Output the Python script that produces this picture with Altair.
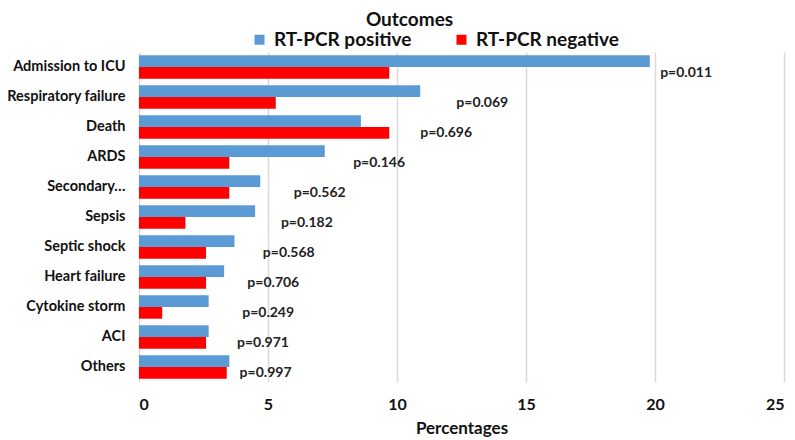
import altair as alt
import pandas as pd

categories = ["Admission to ICU", "Respiratory failure", "Death", "ARDS", "Secondary…",
              "Sepsis", "Septic shock", "Heart failure", "Cytokine storm", "ACI", "Others"]
positive = [19.8, 10.9, 8.6, 7.2, 4.7, 4.5, 3.7, 3.3, 2.7, 2.7, 3.5]
negative = [9.7, 5.3, 9.7, 3.5, 3.5, 1.8, 2.6, 2.6, 0.9, 2.6, 3.4]
p_values = ["p=0.011", "p=0.069", "p=0.696", "p=0.146", "p=0.562", "p=0.182",
            "p=0.568", "p=0.706", "p=0.249", "p=0.971", "p=0.997"]
p_label_x = [20.2, 12.3, 10.9, 8.3, 6.0, 5.5, 4.8, 4.2, 4.0, 3.8, 3.9]
series = ["RT-PCR positive", "RT-PCR negative"]
colors = ["#5B9BD5", "#FF0000"]

rows = []
for c, p, n in zip(categories, positive, negative):
    rows.append({"Outcome": c, "Group": series[0], "Value": p})
    rows.append({"Outcome": c, "Group": series[1], "Value": n})
bars_df = pd.DataFrame(rows)
labels_df = pd.DataFrame({"Outcome": categories, "p": p_values, "x": p_label_x})

FONT = "Lato"
xscale = alt.Scale(domain=[0, 25], nice=False, zero=True)

y_enc = alt.Y("Outcome:N", sort=categories, title=None,
              scale=alt.Scale(paddingInner=0.22, paddingOuter=0.11),
              axis=alt.Axis(ticks=False, domain=False, labelFontSize=14.5, labelFontWeight="bold",
                            labelColor="#111111", labelFont=FONT, labelPadding=14, grid=False,
                            labelLimit=200))

bars = alt.Chart(bars_df).mark_bar().encode(
    x=alt.X("Value:Q", scale=xscale, title="Percentages",
            axis=alt.Axis(values=[0, 5, 10, 15, 20, 25], grid=True, gridColor="#d9d9d9",
                          gridWidth=1.5, domain=False, ticks=False, labelFontSize=16,
                          labelFontWeight="bold", labelFont=FONT, labelColor="#111111",
                          labelPadding=14, titleFontSize=17, titleFontWeight="bold",
                          titleFont=FONT, titleColor="#111111", titlePadding=8)),
    y=y_enc,
    yOffset=alt.YOffset("Group:N", sort=series),
    color=alt.Color("Group:N", sort=series,
                    scale=alt.Scale(domain=series, range=colors),
                    legend=alt.Legend(title=None, orient="none", direction="horizontal",
                                      legendX=111, legendY=-22, symbolType="square",
                                      symbolSize=100, symbolStrokeWidth=0,
                                      labelFontSize=19, labelFontWeight="bold", labelFont=FONT,
                                      labelColor="#111111", columnPadding=40, labelOffset=5)),
)

text = alt.Chart(labels_df).mark_text(align="left", baseline="middle", dy=6, fontSize=14,
                                      fontWeight="bold", font=FONT, color="#222222").encode(
    x=alt.X("x:Q", scale=xscale),
    y=alt.Y("Outcome:N", sort=categories),
    text="p:N",
)

chart = alt.layer(bars, text).properties(
    width=645, height=330,
    title=alt.TitleParams("Outcomes", fontSize=19, fontWeight="bold", font=FONT,
                          color="#111111", anchor="middle", frame="group", offset=0, dx=-52),
    padding={"left": 131, "top": 44, "right": 3, "bottom": 58},
    autosize=alt.AutoSizeParams(type="none"),
).configure_view(stroke=None)

chart.save("out.html", embed_options={"renderer": "svg", "actions": False})
